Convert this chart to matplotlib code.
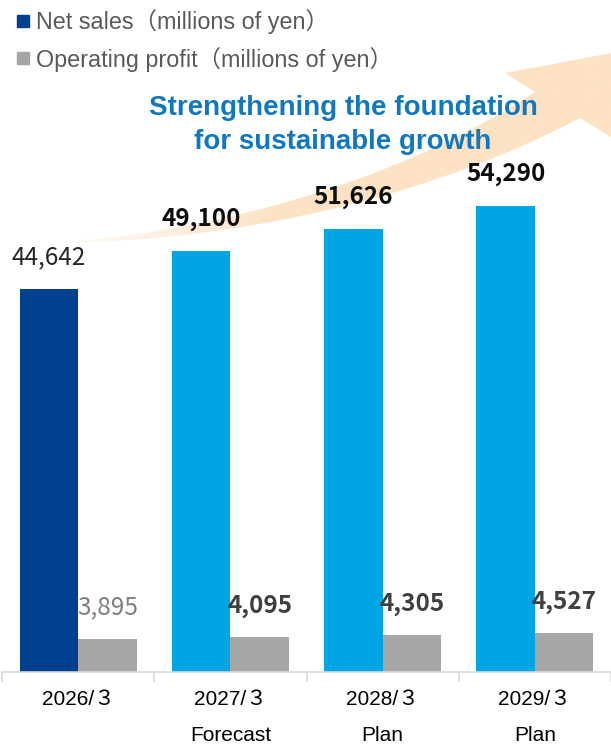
import numpy as np
import matplotlib.pyplot as plt
from matplotlib.path import Path
from matplotlib.patches import PathPatch
from matplotlib.lines import Line2D

years = ["2026/３", "2027/３\nForecast", "2028/３\nPlan", "2029/３\nPlan"]
net_sales = [44642, 49100, 51626, 54290]
op_profit = [3895, 4095, 4305, 4527]
net_labels = ["44,642", "49,100", "51,626", "54,290"]
op_labels = ["3,895", "4,095", "4,305", "4,527"]

W, H = 611, 745
fig = plt.figure(figsize=(W / 100, H / 100), dpi=100)

# background arrow, drawn in pixel coords (y from top)
bg = fig.add_axes([0, 0, 1, 1], zorder=0)
bg.set_xlim(0, W)
bg.set_ylim(H, 0)
bg.axis("off")
verts = [(55, 243), (250, 228), (420, 168), (535, 92),
         (505, 73), (660, 44), (660, 165), (611, 137), (580, 118),
         (440, 192), (250, 241), (55, 243)]
codes = [Path.MOVETO, Path.CURVE4, Path.CURVE4, Path.CURVE4,
         Path.LINETO, Path.LINETO, Path.LINETO, Path.LINETO, Path.LINETO,
         Path.CURVE4, Path.CURVE4, Path.CURVE4]
patch = PathPatch(Path(verts, codes), facecolor="none", edgecolor="none")
bg.add_patch(patch)
grad = np.zeros((2, 300, 4))
grad[..., 0] = 253 / 255
grad[..., 1] = 226 / 255
grad[..., 2] = 196 / 255
grad[..., 3] = np.clip((np.linspace(0, W, 300) - 40) / 240, 0, 1)
im = bg.imshow(grad, extent=[0, W, H, 0], aspect="auto", zorder=1)
im.set_clip_path(patch)

# bars
ax = fig.add_axes([2 / W, 73 / H, 609 / W, 672 / H], zorder=1)
ax.patch.set_alpha(0)
x = np.arange(len(years))
bw = 0.384
net_colors = ["#00418F"] + ["#00A5E3"] * 3
ax.bar(x - bw / 2, net_sales, bw, color=net_colors)
ax.bar(x + bw / 2, op_profit, bw, color="#A6A6A6")
ax.set_xlim(-0.5, -0.5 + 609 / 153.7)
ax.set_ylim(0, 78320)

num_font = "Noto Sans CJK JP"
for i in range(len(years)):
    if i == 0:
        kw = dict(fontweight="normal", color="#262626")
        kw2 = dict(fontweight="normal", color="#7F7F7F")
    else:
        kw = dict(fontweight="bold", color="#0D0D0D")
        kw2 = dict(fontweight="bold", color="#404040")
    ax.annotate(net_labels[i], (x[i] - bw / 2, net_sales[i]), xytext=(0, 32),
                textcoords="offset pixels", ha="center", va="center",
                fontsize=17.5, family=num_font, **kw)
    ax.annotate(op_labels[i], (x[i] + bw / 2, op_profit[i]), xytext=(0, 31),
                textcoords="offset pixels", ha="center", va="center",
                fontsize=17.5, family=num_font, **kw2)

for s in ["top", "right", "left"]:
    ax.spines[s].set_visible(False)
ax.spines["bottom"].set_color("#D9D9D9")
ax.spines["bottom"].set_linewidth(1.2)
ax.set_yticks([])
ax.set_xticks(x)
ax.set_xticklabels(years, family=["Liberation Sans", "Noto Sans CJK JP"],
                   fontsize=15, color="#000000", linespacing=2.15, va="top")
ax.set_xticks(np.arange(-0.5, 4, 1), minor=True)
ax.tick_params(axis="x", which="major", length=0, pad=13)
ax.tick_params(axis="x", which="minor", length=7, color="#D9D9D9", width=1.2)

# legend
handles = [Line2D([], [], marker="s", ls="", color="#00418F", markersize=9),
           Line2D([], [], marker="s", ls="", color="#A6A6A6", markersize=9)]
fig.legend(handles, ["Net sales（millions of yen）", "Operating profit（millions of yen）"],
           loc="upper left", bbox_to_anchor=(-0.006, 1.01), frameon=False,
           prop={"family": ["Liberation Sans", "Noto Sans CJK JP"], "size": 16.8},
           labelcolor="#595959", handletextpad=0.1, labelspacing=0.55,
           borderpad=0.2, handlelength=0.9)

fig.text(343 / W, 1 - 125 / H, "Strengthening the foundation\nfor sustainable growth",
         ha="center", va="center", fontsize=20, fontweight="bold",
         family="Liberation Sans", color="#0F78C0", linespacing=1.4)

fig.savefig("out.png", dpi=100)
